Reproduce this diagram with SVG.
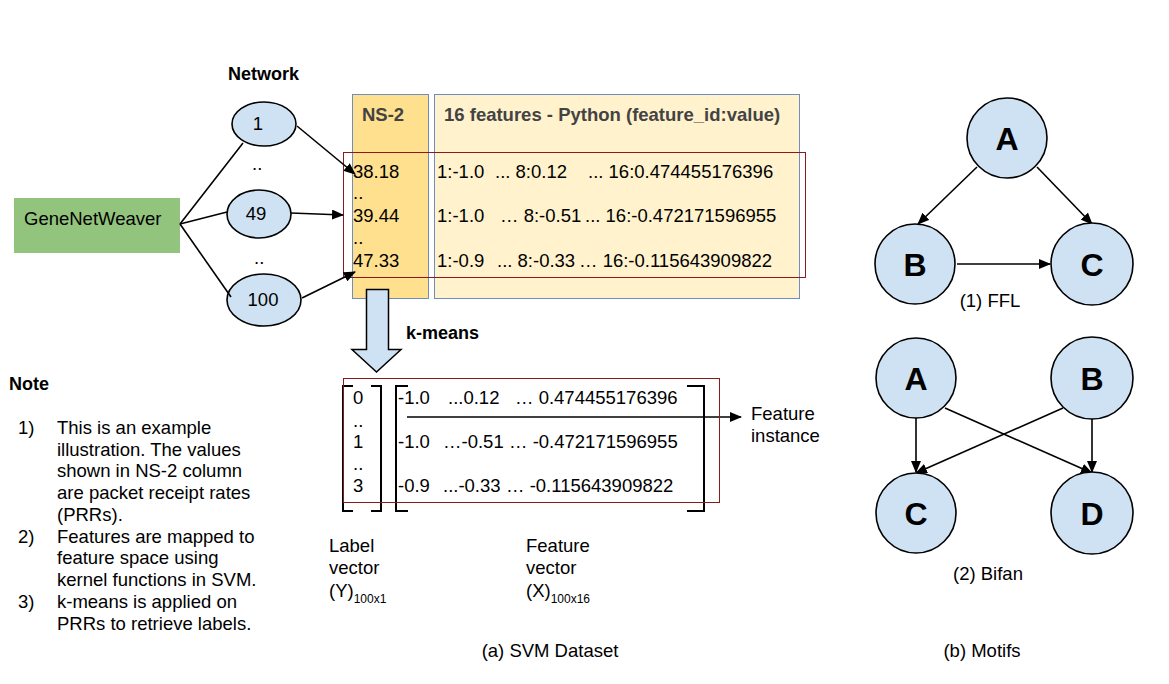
<svg xmlns="http://www.w3.org/2000/svg" width="1169" height="684" viewBox="0 0 1169 684">
<style>
text{font-family:"Liberation Sans",Arial,sans-serif;font-size:18.5px;fill:#000}
.b{font-weight:bold;font-size:18px}
.hd{font-weight:bold;fill:#434343}
.ell{fill:#cfe2f3;stroke:#000;stroke-width:1.6}
.mot{fill:#cfe2f3;stroke:#000;stroke-width:1.6}
.ml{font-weight:bold;font-size:32px;text-anchor:middle}
.ln{stroke:#000;stroke-width:1.6;fill:none}
.arr{stroke:#000;stroke-width:1.6;fill:none;marker-end:url(#ah)}
.brk{stroke:#000;stroke-width:2;fill:none}
.red{fill:none;stroke:#8b1a1a;stroke-width:1}
.c{text-anchor:middle}
.sub{font-size:12px}
</style>
<defs>
<marker id="ah" viewBox="0 0 12 10" refX="11" refY="5" markerWidth="12" markerHeight="10" markerUnits="userSpaceOnUse" orient="auto">
<path d="M0,0 L12,5 L0,10 z" fill="#000"/>
</marker>
</defs>
<rect width="1169" height="684" fill="#fff"/>

<g id="tables">
<rect id="ns2-col" x="352.5" y="94.5" width="76" height="204" fill="#ffe08f" stroke="#6d8ebf" stroke-width="1"/>
<rect id="feat-col" x="434.5" y="94.5" width="365" height="204" fill="#fff2cc" stroke="#6d8ebf" stroke-width="1"/>
<text class="hd" x="362" y="121">NS-2</text>
<text class="hd" x="444" y="121">16 features - Python (feature_id:value)</text>
<text x="353" y="178">38.18</text>
<text x="353" y="199">..</text>
<text x="353" y="222">39.44</text>
<text x="353" y="244">..</text>
<text x="353" y="267">47.33</text>
<text y="178"><tspan x="437">1:-1.0</tspan><tspan x="495">... 8:0.12</tspan><tspan x="588">... 16:0.474455176396</tspan></text>
<text y="222"><tspan x="437">1:-1.0</tspan><tspan x="500">… 8:-0.51</tspan><tspan x="585">... 16:-0.472171596955</tspan></text>
<text y="267"><tspan x="437">1:-0.9</tspan><tspan x="497">... 8:-0.33</tspan><tspan x="579">… 16:-0.115643909822</tspan></text>
<rect class="red" x="343.5" y="152.5" width="462" height="125"/>
</g>

<g id="gnw">
<rect x="14" y="198" width="166" height="55" fill="#93c47d"/>
<text x="24" y="225" font-size="19.5">GeneNetWeaver</text>
</g>

<text class="b" x="228" y="80">Network</text>
<g id="net1"><ellipse class="ell" cx="264" cy="124" rx="32" ry="22"/><text class="c" x="258" y="130" font-size="17.5">1</text></g>
<text x="252" y="170">..</text>
<g id="net49"><ellipse class="ell" cx="259" cy="214" rx="32" ry="24"/><text class="c" x="256" y="220" font-size="17.5">49</text></g>
<text x="254" y="264">..</text>
<g id="net100"><ellipse class="ell" cx="264" cy="300" rx="37" ry="26"/><text class="c" x="263" y="306" font-size="17.5">100</text></g>

<g id="connectors">
<path class="ln" d="M180,224 L243,143"/>
<path class="ln" d="M180,224 L227,212"/>
<path class="ln" d="M180,224 L231,297"/>
<path class="arr" d="M297,126 L355,174"/>
<path class="arr" d="M291,213 L343,215"/>
<path class="arr" d="M302,298 L355,272"/>
<path class="arr" d="M407,417 L741,417"/>
<path class="arr" d="M977,167 L918,224"/>
<path class="arr" d="M1037,167 L1092,224"/>
<path class="arr" d="M957,264 L1050,264"/>
<path class="arr" d="M916,418 L916,472"/>
<path class="arr" d="M1092,418 L1092,472"/>
<path class="arr" d="M945,408 L1092,473"/>
<path class="arr" d="M1063,408 L916,473"/>
</g>

<g id="kmeans-arrow">
<path d="M366.5,289.5 H388.5 V349.5 H401 L376.5,372 L352,349.5 H366.5 Z" fill="#cfe2f3" stroke="#000" stroke-width="1.5"/>
<text class="b" x="406" y="339">k-means</text>
</g>

<g id="matrices">
<path class="brk" d="M353,386 H343 V511 H353"/>
<path class="brk" d="M371,386 H381 V511 H371"/>
<path class="brk" d="M408,386 H396 V511 H408"/>
<path class="brk" d="M687,386 H704 V511 H687"/>
<text x="353" y="404">0</text>
<text x="353" y="427">..</text>
<text x="353" y="448">1</text>
<text x="353" y="470">..</text>
<text x="353" y="492">3</text>
<text y="404"><tspan x="398">-1.0</tspan><tspan x="448">...0.12</tspan><tspan x="515">… 0.474455176396</tspan></text>
<text y="448"><tspan x="398">-1.0</tspan><tspan x="443">…-0.51</tspan><tspan x="509">… -0.472171596955</tspan></text>
<text y="492"><tspan x="398">-0.9</tspan><tspan x="443">...-0.33</tspan><tspan x="506">… -0.115643909822</tspan></text>
<rect class="red" x="343.5" y="378.5" width="376" height="124"/>
<text x="751" y="420">Feature</text>
<text x="751" y="442">instance</text>
</g>

<g id="labels">
<text x="329" y="552">Label</text>
<text x="329" y="574">vector</text>
<text x="329" y="597">(Y)<tspan class="sub" dy="6">100x1</tspan></text>
<text x="526" y="552">Feature</text>
<text x="526" y="574">vector</text>
<text x="526" y="597">(X)<tspan class="sub" dy="6">100x16</tspan></text>
<text class="c" x="550" y="657">(a) SVM Dataset</text>
</g>

<g id="note">
<text class="b" x="9" y="390">Note</text>
<text x="18" y="434">1)</text>
<text x="57" y="434">This is an example</text>
<text x="57" y="456">illustration. The values</text>
<text x="57" y="477">shown in NS-2 column</text>
<text x="57" y="499">are packet receipt rates</text>
<text x="57" y="521">(PRRs).</text>
<text x="18" y="543">2)</text>
<text x="57" y="543">Features are mapped to</text>
<text x="57" y="564">feature space using</text>
<text x="57" y="586">kernel functions in SVM.</text>
<text x="18" y="608">3)</text>
<text x="57" y="608">k-means is applied on</text>
<text x="57" y="630">PRRs to retrieve labels.</text>
</g>

<g id="ffl-A"><circle class="mot" cx="1007" cy="138" r="40"/><text class="ml" x="1007" y="150">A</text></g>
<g id="ffl-B"><circle class="mot" cx="915" cy="264" r="40"/><text class="ml" x="915" y="276">B</text></g>
<g id="ffl-C"><circle class="mot" cx="1092" cy="264" r="41"/><text class="ml" x="1092" y="276">C</text></g>
<text class="c" x="990" y="307">(1) FFL</text>
<g id="bifan-A"><circle class="mot" cx="916" cy="378" r="40"/><text class="ml" x="916" y="390">A</text></g>
<g id="bifan-B"><circle class="mot" cx="1092" cy="378" r="41"/><text class="ml" x="1092" y="390">B</text></g>
<g id="bifan-C"><circle class="mot" cx="916" cy="513" r="40"/><text class="ml" x="916" y="525">C</text></g>
<g id="bifan-D"><circle class="mot" cx="1092" cy="513" r="41"/><text class="ml" x="1092" y="525">D</text></g>
<text class="c" x="988" y="580">(2) Bifan</text>
<text class="c" x="982" y="657">(b) Motifs</text>
</svg>
